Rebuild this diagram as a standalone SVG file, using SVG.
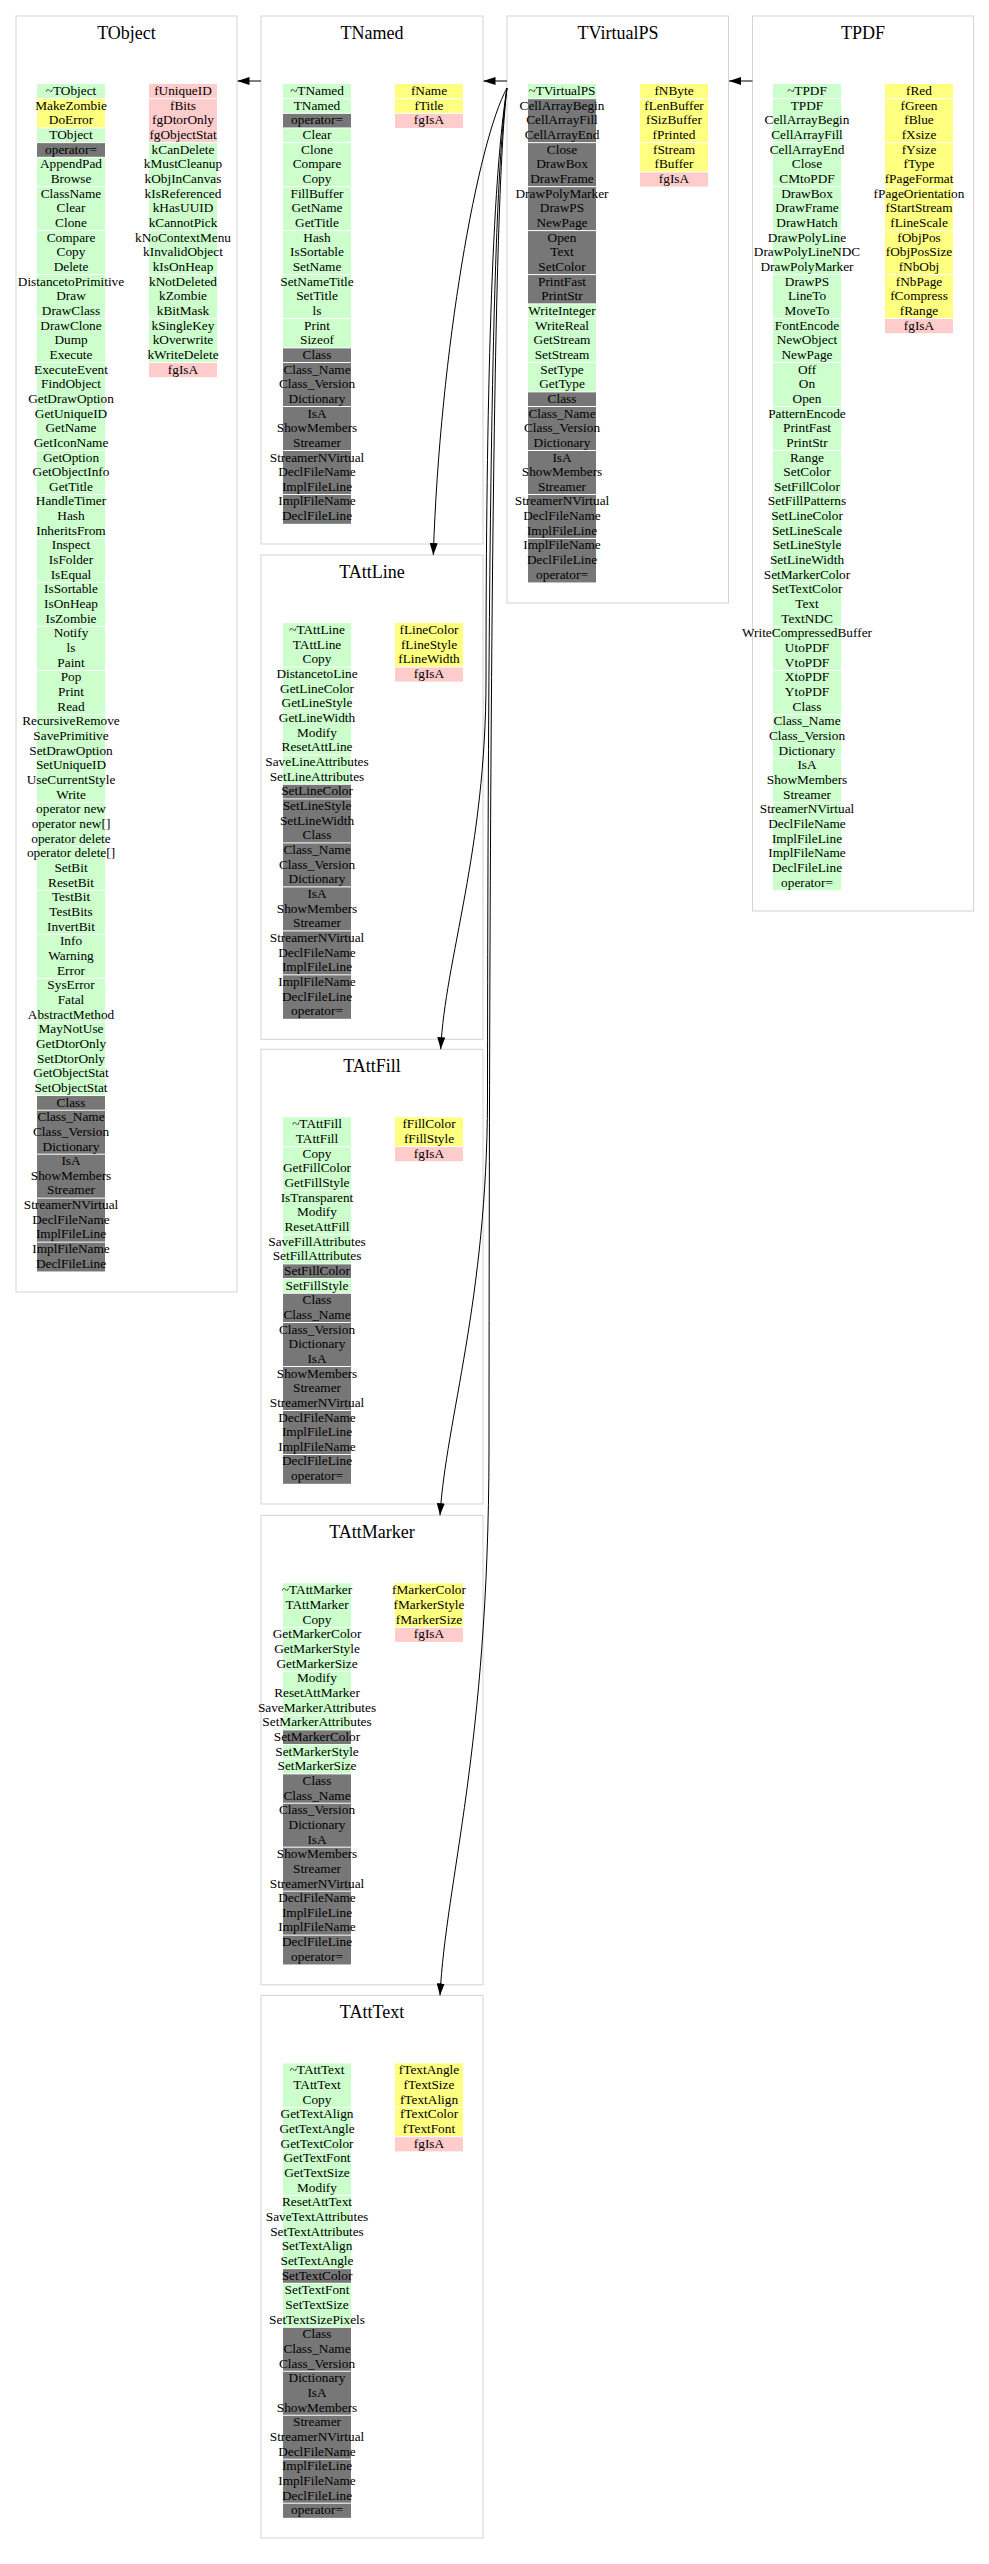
<svg xmlns="http://www.w3.org/2000/svg" width="989" height="2564" viewBox="0 0 989 2564">
<style>
.box{fill:#fff;stroke:#d3d3d3;stroke-width:1}
.t{font-family:"Liberation Serif","Times New Roman",serif;font-size:18px;text-anchor:middle;fill:#000}
.r{font-family:"Liberation Serif","Times New Roman",serif;font-size:13.3px;text-anchor:middle;fill:#000}
.G{fill:#ccffcc}.Y{fill:#ffff80}.P{fill:#ffcccc}.D{fill:#777777}
.sep{stroke:#fff;stroke-width:1;fill:none}
.edge{fill:none;stroke:#000;stroke-width:1}
</style>
<defs>
<marker id="a" viewBox="0 0 12 8" refX="12" refY="4" markerWidth="12" markerHeight="8" markerUnits="userSpaceOnUse" orient="auto"><path d="M0,0L12,4L0,8z" fill="#000"/></marker>
</defs>
<rect width="989" height="2564" fill="#fff"/>

<g id="TObject">
<rect class="box" x="16" y="16" width="221" height="1276"/>
<text class="t" x="126.5" y="38.5">TObject</text>
<g transform="translate(37,84) scale(1,14.66)">
<rect class="G" y="0" width="68" height="1"/><rect class="Y" y="1" width="68" height="2"/><rect class="G" y="3" width="68" height="1"/><rect class="D" y="4" width="68" height="1"/><rect class="G" y="5" width="68" height="64"/><rect class="D" y="69" width="68" height="12"/>
<path class="sep" vector-effect="non-scaling-stroke" d="M0,1h68M0,3h68M0,4h68M0,5h68M0,7h68M0,10h68M0,13h68M0,16h68M0,19h68M0,22h68M0,25h68M0,28h68M0,31h68M0,34h68M0,37h68M0,40h68M0,43h68M0,46h68M0,49h68M0,52h68M0,55h68M0,58h68M0,61h68M0,64h68M0,67h68M0,69h68M0,70h68M0,73h68M0,76h68M0,79h68"/>
</g>
<text class="r" y="95"><tspan x="71">~TObject</tspan><tspan x="71" dy="14.66">MakeZombie</tspan><tspan x="71" dy="14.66">DoError</tspan><tspan x="71" dy="14.66">TObject</tspan><tspan x="71" dy="14.66">operator=</tspan><tspan x="71" dy="14.66">AppendPad</tspan><tspan x="71" dy="14.66">Browse</tspan><tspan x="71" dy="14.66">ClassName</tspan><tspan x="71" dy="14.66">Clear</tspan><tspan x="71" dy="14.66">Clone</tspan><tspan x="71" dy="14.66">Compare</tspan><tspan x="71" dy="14.66">Copy</tspan><tspan x="71" dy="14.66">Delete</tspan><tspan x="71" dy="14.66">DistancetoPrimitive</tspan><tspan x="71" dy="14.66">Draw</tspan><tspan x="71" dy="14.66">DrawClass</tspan><tspan x="71" dy="14.66">DrawClone</tspan><tspan x="71" dy="14.66">Dump</tspan><tspan x="71" dy="14.66">Execute</tspan><tspan x="71" dy="14.66">ExecuteEvent</tspan><tspan x="71" dy="14.66">FindObject</tspan><tspan x="71" dy="14.66">GetDrawOption</tspan><tspan x="71" dy="14.66">GetUniqueID</tspan><tspan x="71" dy="14.66">GetName</tspan><tspan x="71" dy="14.66">GetIconName</tspan><tspan x="71" dy="14.66">GetOption</tspan><tspan x="71" dy="14.66">GetObjectInfo</tspan><tspan x="71" dy="14.66">GetTitle</tspan><tspan x="71" dy="14.66">HandleTimer</tspan><tspan x="71" dy="14.66">Hash</tspan><tspan x="71" dy="14.66">InheritsFrom</tspan><tspan x="71" dy="14.66">Inspect</tspan><tspan x="71" dy="14.66">IsFolder</tspan><tspan x="71" dy="14.66">IsEqual</tspan><tspan x="71" dy="14.66">IsSortable</tspan><tspan x="71" dy="14.66">IsOnHeap</tspan><tspan x="71" dy="14.66">IsZombie</tspan><tspan x="71" dy="14.66">Notify</tspan><tspan x="71" dy="14.66">ls</tspan><tspan x="71" dy="14.66">Paint</tspan><tspan x="71" dy="14.66">Pop</tspan><tspan x="71" dy="14.66">Print</tspan><tspan x="71" dy="14.66">Read</tspan><tspan x="71" dy="14.66">RecursiveRemove</tspan><tspan x="71" dy="14.66">SavePrimitive</tspan><tspan x="71" dy="14.66">SetDrawOption</tspan><tspan x="71" dy="14.66">SetUniqueID</tspan><tspan x="71" dy="14.66">UseCurrentStyle</tspan><tspan x="71" dy="14.66">Write</tspan><tspan x="71" dy="14.66">operator new</tspan><tspan x="71" dy="14.66">operator new[]</tspan><tspan x="71" dy="14.66">operator delete</tspan><tspan x="71" dy="14.66">operator delete[]</tspan><tspan x="71" dy="14.66">SetBit</tspan><tspan x="71" dy="14.66">ResetBit</tspan><tspan x="71" dy="14.66">TestBit</tspan><tspan x="71" dy="14.66">TestBits</tspan><tspan x="71" dy="14.66">InvertBit</tspan><tspan x="71" dy="14.66">Info</tspan><tspan x="71" dy="14.66">Warning</tspan><tspan x="71" dy="14.66">Error</tspan><tspan x="71" dy="14.66">SysError</tspan><tspan x="71" dy="14.66">Fatal</tspan><tspan x="71" dy="14.66">AbstractMethod</tspan><tspan x="71" dy="14.66">MayNotUse</tspan><tspan x="71" dy="14.66">GetDtorOnly</tspan><tspan x="71" dy="14.66">SetDtorOnly</tspan><tspan x="71" dy="14.66">GetObjectStat</tspan><tspan x="71" dy="14.66">SetObjectStat</tspan><tspan x="71" dy="14.66">Class</tspan><tspan x="71" dy="14.66">Class_Name</tspan><tspan x="71" dy="14.66">Class_Version</tspan><tspan x="71" dy="14.66">Dictionary</tspan><tspan x="71" dy="14.66">IsA</tspan><tspan x="71" dy="14.66">ShowMembers</tspan><tspan x="71" dy="14.66">Streamer</tspan><tspan x="71" dy="14.66">StreamerNVirtual</tspan><tspan x="71" dy="14.66">DeclFileName</tspan><tspan x="71" dy="14.66">ImplFileLine</tspan><tspan x="71" dy="14.66">ImplFileName</tspan><tspan x="71" dy="14.66">DeclFileLine</tspan></text>
<g transform="translate(149,84) scale(1,14.66)">
<rect class="P" y="0" width="68" height="4"/><rect class="G" y="4" width="68" height="15"/><rect class="P" y="19" width="68" height="1"/>
<path class="sep" vector-effect="non-scaling-stroke" d="M0,1h68M0,4h68M0,7h68M0,10h68M0,13h68M0,16h68M0,19h68"/>
</g>
<text class="r" y="95"><tspan x="183">fUniqueID</tspan><tspan x="183" dy="14.66">fBits</tspan><tspan x="183" dy="14.66">fgDtorOnly</tspan><tspan x="183" dy="14.66">fgObjectStat</tspan><tspan x="183" dy="14.66">kCanDelete</tspan><tspan x="183" dy="14.66">kMustCleanup</tspan><tspan x="183" dy="14.66">kObjInCanvas</tspan><tspan x="183" dy="14.66">kIsReferenced</tspan><tspan x="183" dy="14.66">kHasUUID</tspan><tspan x="183" dy="14.66">kCannotPick</tspan><tspan x="183" dy="14.66">kNoContextMenu</tspan><tspan x="183" dy="14.66">kInvalidObject</tspan><tspan x="183" dy="14.66">kIsOnHeap</tspan><tspan x="183" dy="14.66">kNotDeleted</tspan><tspan x="183" dy="14.66">kZombie</tspan><tspan x="183" dy="14.66">kBitMask</tspan><tspan x="183" dy="14.66">kSingleKey</tspan><tspan x="183" dy="14.66">kOverwrite</tspan><tspan x="183" dy="14.66">kWriteDelete</tspan><tspan x="183" dy="14.66">fgIsA</tspan></text>
</g>

<g id="TNamed">
<rect class="box" x="261" y="16" width="222" height="528"/>
<text class="t" x="372" y="38.5">TNamed</text>
<g transform="translate(283,84) scale(1,14.66)">
<rect class="G" y="0" width="68" height="2"/><rect class="D" y="2" width="68" height="1"/><rect class="G" y="3" width="68" height="15"/><rect class="D" y="18" width="68" height="12"/>
<path class="sep" vector-effect="non-scaling-stroke" d="M0,1h68M0,2h68M0,3h68M0,4h68M0,7h68M0,10h68M0,13h68M0,16h68M0,18h68M0,19h68M0,22h68M0,25h68M0,28h68"/>
</g>
<text class="r" y="95"><tspan x="317">~TNamed</tspan><tspan x="317" dy="14.66">TNamed</tspan><tspan x="317" dy="14.66">operator=</tspan><tspan x="317" dy="14.66">Clear</tspan><tspan x="317" dy="14.66">Clone</tspan><tspan x="317" dy="14.66">Compare</tspan><tspan x="317" dy="14.66">Copy</tspan><tspan x="317" dy="14.66">FillBuffer</tspan><tspan x="317" dy="14.66">GetName</tspan><tspan x="317" dy="14.66">GetTitle</tspan><tspan x="317" dy="14.66">Hash</tspan><tspan x="317" dy="14.66">IsSortable</tspan><tspan x="317" dy="14.66">SetName</tspan><tspan x="317" dy="14.66">SetNameTitle</tspan><tspan x="317" dy="14.66">SetTitle</tspan><tspan x="317" dy="14.66">ls</tspan><tspan x="317" dy="14.66">Print</tspan><tspan x="317" dy="14.66">Sizeof</tspan><tspan x="317" dy="14.66">Class</tspan><tspan x="317" dy="14.66">Class_Name</tspan><tspan x="317" dy="14.66">Class_Version</tspan><tspan x="317" dy="14.66">Dictionary</tspan><tspan x="317" dy="14.66">IsA</tspan><tspan x="317" dy="14.66">ShowMembers</tspan><tspan x="317" dy="14.66">Streamer</tspan><tspan x="317" dy="14.66">StreamerNVirtual</tspan><tspan x="317" dy="14.66">DeclFileName</tspan><tspan x="317" dy="14.66">ImplFileLine</tspan><tspan x="317" dy="14.66">ImplFileName</tspan><tspan x="317" dy="14.66">DeclFileLine</tspan></text>
<g transform="translate(395,84) scale(1,14.66)">
<rect class="Y" y="0" width="68" height="2"/><rect class="P" y="2" width="68" height="1"/>
<path class="sep" vector-effect="non-scaling-stroke" d="M0,1h68M0,2h68"/>
</g>
<text class="r" y="95"><tspan x="429">fName</tspan><tspan x="429" dy="14.66">fTitle</tspan><tspan x="429" dy="14.66">fgIsA</tspan></text>
</g>

<g id="TVirtualPS">
<rect class="box" x="507" y="16" width="221.5" height="587"/>
<text class="t" x="618" y="38.5">TVirtualPS</text>
<g transform="translate(528,84) scale(1,14.66)">
<rect class="G" y="0" width="68" height="1"/><rect class="D" y="1" width="68" height="14"/><rect class="G" y="15" width="68" height="6"/><rect class="D" y="21" width="68" height="13"/>
<path class="sep" vector-effect="non-scaling-stroke" d="M0,1h68M0,4h68M0,7h68M0,10h68M0,13h68M0,15h68M0,16h68M0,19h68M0,21h68M0,22h68M0,25h68M0,28h68M0,31h68"/>
</g>
<text class="r" y="95"><tspan x="562">~TVirtualPS</tspan><tspan x="562" dy="14.66">CellArrayBegin</tspan><tspan x="562" dy="14.66">CellArrayFill</tspan><tspan x="562" dy="14.66">CellArrayEnd</tspan><tspan x="562" dy="14.66">Close</tspan><tspan x="562" dy="14.66">DrawBox</tspan><tspan x="562" dy="14.66">DrawFrame</tspan><tspan x="562" dy="14.66">DrawPolyMarker</tspan><tspan x="562" dy="14.66">DrawPS</tspan><tspan x="562" dy="14.66">NewPage</tspan><tspan x="562" dy="14.66">Open</tspan><tspan x="562" dy="14.66">Text</tspan><tspan x="562" dy="14.66">SetColor</tspan><tspan x="562" dy="14.66">PrintFast</tspan><tspan x="562" dy="14.66">PrintStr</tspan><tspan x="562" dy="14.66">WriteInteger</tspan><tspan x="562" dy="14.66">WriteReal</tspan><tspan x="562" dy="14.66">GetStream</tspan><tspan x="562" dy="14.66">SetStream</tspan><tspan x="562" dy="14.66">SetType</tspan><tspan x="562" dy="14.66">GetType</tspan><tspan x="562" dy="14.66">Class</tspan><tspan x="562" dy="14.66">Class_Name</tspan><tspan x="562" dy="14.66">Class_Version</tspan><tspan x="562" dy="14.66">Dictionary</tspan><tspan x="562" dy="14.66">IsA</tspan><tspan x="562" dy="14.66">ShowMembers</tspan><tspan x="562" dy="14.66">Streamer</tspan><tspan x="562" dy="14.66">StreamerNVirtual</tspan><tspan x="562" dy="14.66">DeclFileName</tspan><tspan x="562" dy="14.66">ImplFileLine</tspan><tspan x="562" dy="14.66">ImplFileName</tspan><tspan x="562" dy="14.66">DeclFileLine</tspan><tspan x="562" dy="14.66">operator=</tspan></text>
<g transform="translate(640,84) scale(1,14.66)">
<rect class="Y" y="0" width="68" height="6"/><rect class="P" y="6" width="68" height="1"/>
<path class="sep" vector-effect="non-scaling-stroke" d="M0,1h68M0,4h68M0,6h68"/>
</g>
<text class="r" y="95"><tspan x="674">fNByte</tspan><tspan x="674" dy="14.66">fLenBuffer</tspan><tspan x="674" dy="14.66">fSizBuffer</tspan><tspan x="674" dy="14.66">fPrinted</tspan><tspan x="674" dy="14.66">fStream</tspan><tspan x="674" dy="14.66">fBuffer</tspan><tspan x="674" dy="14.66">fgIsA</tspan></text>
</g>

<g id="TPDF">
<rect class="box" x="752.5" y="16" width="221" height="895"/>
<text class="t" x="863" y="38.5">TPDF</text>
<g transform="translate(773,84) scale(1,14.66)">
<rect class="G" y="0" width="68" height="55"/>
<path class="sep" vector-effect="non-scaling-stroke" d="M0,1h68M0,4h68M0,7h68M0,10h68M0,13h68M0,16h68M0,19h68M0,22h68M0,25h68M0,28h68M0,31h68M0,34h68M0,37h68M0,40h68M0,43h68M0,46h68M0,49h68M0,52h68"/>
</g>
<text class="r" y="95"><tspan x="807">~TPDF</tspan><tspan x="807" dy="14.66">TPDF</tspan><tspan x="807" dy="14.66">CellArrayBegin</tspan><tspan x="807" dy="14.66">CellArrayFill</tspan><tspan x="807" dy="14.66">CellArrayEnd</tspan><tspan x="807" dy="14.66">Close</tspan><tspan x="807" dy="14.66">CMtoPDF</tspan><tspan x="807" dy="14.66">DrawBox</tspan><tspan x="807" dy="14.66">DrawFrame</tspan><tspan x="807" dy="14.66">DrawHatch</tspan><tspan x="807" dy="14.66">DrawPolyLine</tspan><tspan x="807" dy="14.66">DrawPolyLineNDC</tspan><tspan x="807" dy="14.66">DrawPolyMarker</tspan><tspan x="807" dy="14.66">DrawPS</tspan><tspan x="807" dy="14.66">LineTo</tspan><tspan x="807" dy="14.66">MoveTo</tspan><tspan x="807" dy="14.66">FontEncode</tspan><tspan x="807" dy="14.66">NewObject</tspan><tspan x="807" dy="14.66">NewPage</tspan><tspan x="807" dy="14.66">Off</tspan><tspan x="807" dy="14.66">On</tspan><tspan x="807" dy="14.66">Open</tspan><tspan x="807" dy="14.66">PatternEncode</tspan><tspan x="807" dy="14.66">PrintFast</tspan><tspan x="807" dy="14.66">PrintStr</tspan><tspan x="807" dy="14.66">Range</tspan><tspan x="807" dy="14.66">SetColor</tspan><tspan x="807" dy="14.66">SetFillColor</tspan><tspan x="807" dy="14.66">SetFillPatterns</tspan><tspan x="807" dy="14.66">SetLineColor</tspan><tspan x="807" dy="14.66">SetLineScale</tspan><tspan x="807" dy="14.66">SetLineStyle</tspan><tspan x="807" dy="14.66">SetLineWidth</tspan><tspan x="807" dy="14.66">SetMarkerColor</tspan><tspan x="807" dy="14.66">SetTextColor</tspan><tspan x="807" dy="14.66">Text</tspan><tspan x="807" dy="14.66">TextNDC</tspan><tspan x="807" dy="14.66">WriteCompressedBuffer</tspan><tspan x="807" dy="14.66">UtoPDF</tspan><tspan x="807" dy="14.66">VtoPDF</tspan><tspan x="807" dy="14.66">XtoPDF</tspan><tspan x="807" dy="14.66">YtoPDF</tspan><tspan x="807" dy="14.66">Class</tspan><tspan x="807" dy="14.66">Class_Name</tspan><tspan x="807" dy="14.66">Class_Version</tspan><tspan x="807" dy="14.66">Dictionary</tspan><tspan x="807" dy="14.66">IsA</tspan><tspan x="807" dy="14.66">ShowMembers</tspan><tspan x="807" dy="14.66">Streamer</tspan><tspan x="807" dy="14.66">StreamerNVirtual</tspan><tspan x="807" dy="14.66">DeclFileName</tspan><tspan x="807" dy="14.66">ImplFileLine</tspan><tspan x="807" dy="14.66">ImplFileName</tspan><tspan x="807" dy="14.66">DeclFileLine</tspan><tspan x="807" dy="14.66">operator=</tspan></text>
<g transform="translate(885,84) scale(1,14.66)">
<rect class="Y" y="0" width="68" height="16"/><rect class="P" y="16" width="68" height="1"/>
<path class="sep" vector-effect="non-scaling-stroke" d="M0,1h68M0,4h68M0,7h68M0,10h68M0,13h68M0,16h68"/>
</g>
<text class="r" y="95"><tspan x="919">fRed</tspan><tspan x="919" dy="14.66">fGreen</tspan><tspan x="919" dy="14.66">fBlue</tspan><tspan x="919" dy="14.66">fXsize</tspan><tspan x="919" dy="14.66">fYsize</tspan><tspan x="919" dy="14.66">fType</tspan><tspan x="919" dy="14.66">fPageFormat</tspan><tspan x="919" dy="14.66">fPageOrientation</tspan><tspan x="919" dy="14.66">fStartStream</tspan><tspan x="919" dy="14.66">fLineScale</tspan><tspan x="919" dy="14.66">fObjPos</tspan><tspan x="919" dy="14.66">fObjPosSize</tspan><tspan x="919" dy="14.66">fNbObj</tspan><tspan x="919" dy="14.66">fNbPage</tspan><tspan x="919" dy="14.66">fCompress</tspan><tspan x="919" dy="14.66">fRange</tspan><tspan x="919" dy="14.66">fgIsA</tspan></text>
</g>

<g id="TAttLine">
<rect class="box" x="261" y="555" width="222" height="484.3"/>
<text class="t" x="372" y="577.5">TAttLine</text>
<g transform="translate(283,623) scale(1,14.66)">
<rect class="G" y="0" width="68" height="11"/><rect class="D" y="11" width="68" height="16"/>
<path class="sep" vector-effect="non-scaling-stroke" d="M0,3h68M0,6h68M0,9h68M0,11h68M0,12h68M0,15h68M0,18h68M0,21h68M0,24h68"/>
</g>
<text class="r" y="634"><tspan x="317">~TAttLine</tspan><tspan x="317" dy="14.66">TAttLine</tspan><tspan x="317" dy="14.66">Copy</tspan><tspan x="317" dy="14.66">DistancetoLine</tspan><tspan x="317" dy="14.66">GetLineColor</tspan><tspan x="317" dy="14.66">GetLineStyle</tspan><tspan x="317" dy="14.66">GetLineWidth</tspan><tspan x="317" dy="14.66">Modify</tspan><tspan x="317" dy="14.66">ResetAttLine</tspan><tspan x="317" dy="14.66">SaveLineAttributes</tspan><tspan x="317" dy="14.66">SetLineAttributes</tspan><tspan x="317" dy="14.66">SetLineColor</tspan><tspan x="317" dy="14.66">SetLineStyle</tspan><tspan x="317" dy="14.66">SetLineWidth</tspan><tspan x="317" dy="14.66">Class</tspan><tspan x="317" dy="14.66">Class_Name</tspan><tspan x="317" dy="14.66">Class_Version</tspan><tspan x="317" dy="14.66">Dictionary</tspan><tspan x="317" dy="14.66">IsA</tspan><tspan x="317" dy="14.66">ShowMembers</tspan><tspan x="317" dy="14.66">Streamer</tspan><tspan x="317" dy="14.66">StreamerNVirtual</tspan><tspan x="317" dy="14.66">DeclFileName</tspan><tspan x="317" dy="14.66">ImplFileLine</tspan><tspan x="317" dy="14.66">ImplFileName</tspan><tspan x="317" dy="14.66">DeclFileLine</tspan><tspan x="317" dy="14.66">operator=</tspan></text>
<g transform="translate(395,623) scale(1,14.66)">
<rect class="Y" y="0" width="68" height="3"/><rect class="P" y="3" width="68" height="1"/>
<path class="sep" vector-effect="non-scaling-stroke" d="M0,3h68"/>
</g>
<text class="r" y="634"><tspan x="429">fLineColor</tspan><tspan x="429" dy="14.66">fLineStyle</tspan><tspan x="429" dy="14.66">fLineWidth</tspan><tspan x="429" dy="14.66">fgIsA</tspan></text>
</g>

<g id="TAttFill">
<rect class="box" x="261" y="1049.3" width="222" height="454.7"/>
<text class="t" x="372" y="1071.8">TAttFill</text>
<g transform="translate(283,1117.3) scale(1,14.66)">
<rect class="G" y="0" width="68" height="10"/><rect class="D" y="10" width="68" height="1"/><rect class="G" y="11" width="68" height="1"/><rect class="D" y="12" width="68" height="13"/>
<path class="sep" vector-effect="non-scaling-stroke" d="M0,2h68M0,5h68M0,8h68M0,10h68M0,11h68M0,12h68M0,14h68M0,17h68M0,20h68M0,23h68"/>
</g>
<text class="r" y="1128.3"><tspan x="317">~TAttFill</tspan><tspan x="317" dy="14.66">TAttFill</tspan><tspan x="317" dy="14.66">Copy</tspan><tspan x="317" dy="14.66">GetFillColor</tspan><tspan x="317" dy="14.66">GetFillStyle</tspan><tspan x="317" dy="14.66">IsTransparent</tspan><tspan x="317" dy="14.66">Modify</tspan><tspan x="317" dy="14.66">ResetAttFill</tspan><tspan x="317" dy="14.66">SaveFillAttributes</tspan><tspan x="317" dy="14.66">SetFillAttributes</tspan><tspan x="317" dy="14.66">SetFillColor</tspan><tspan x="317" dy="14.66">SetFillStyle</tspan><tspan x="317" dy="14.66">Class</tspan><tspan x="317" dy="14.66">Class_Name</tspan><tspan x="317" dy="14.66">Class_Version</tspan><tspan x="317" dy="14.66">Dictionary</tspan><tspan x="317" dy="14.66">IsA</tspan><tspan x="317" dy="14.66">ShowMembers</tspan><tspan x="317" dy="14.66">Streamer</tspan><tspan x="317" dy="14.66">StreamerNVirtual</tspan><tspan x="317" dy="14.66">DeclFileName</tspan><tspan x="317" dy="14.66">ImplFileLine</tspan><tspan x="317" dy="14.66">ImplFileName</tspan><tspan x="317" dy="14.66">DeclFileLine</tspan><tspan x="317" dy="14.66">operator=</tspan></text>
<g transform="translate(395,1117.3) scale(1,14.66)">
<rect class="Y" y="0" width="68" height="2"/><rect class="P" y="2" width="68" height="1"/>
<path class="sep" vector-effect="non-scaling-stroke" d="M0,2h68"/>
</g>
<text class="r" y="1128.3"><tspan x="429">fFillColor</tspan><tspan x="429" dy="14.66">fFillStyle</tspan><tspan x="429" dy="14.66">fgIsA</tspan></text>
</g>

<g id="TAttMarker">
<rect class="box" x="261" y="1515.3" width="222" height="469.5"/>
<text class="t" x="372" y="1537.8">TAttMarker</text>
<g transform="translate(283,1583.3) scale(1,14.66)">
<rect class="G" y="0" width="68" height="10"/><rect class="D" y="10" width="68" height="1"/><rect class="G" y="11" width="68" height="2"/><rect class="D" y="13" width="68" height="13"/>
<path class="sep" vector-effect="non-scaling-stroke" d="M0,3h68M0,6h68M0,9h68M0,10h68M0,11h68M0,12h68M0,13h68M0,15h68M0,18h68M0,21h68M0,24h68"/>
</g>
<text class="r" y="1594.3"><tspan x="317">~TAttMarker</tspan><tspan x="317" dy="14.66">TAttMarker</tspan><tspan x="317" dy="14.66">Copy</tspan><tspan x="317" dy="14.66">GetMarkerColor</tspan><tspan x="317" dy="14.66">GetMarkerStyle</tspan><tspan x="317" dy="14.66">GetMarkerSize</tspan><tspan x="317" dy="14.66">Modify</tspan><tspan x="317" dy="14.66">ResetAttMarker</tspan><tspan x="317" dy="14.66">SaveMarkerAttributes</tspan><tspan x="317" dy="14.66">SetMarkerAttributes</tspan><tspan x="317" dy="14.66">SetMarkerColor</tspan><tspan x="317" dy="14.66">SetMarkerStyle</tspan><tspan x="317" dy="14.66">SetMarkerSize</tspan><tspan x="317" dy="14.66">Class</tspan><tspan x="317" dy="14.66">Class_Name</tspan><tspan x="317" dy="14.66">Class_Version</tspan><tspan x="317" dy="14.66">Dictionary</tspan><tspan x="317" dy="14.66">IsA</tspan><tspan x="317" dy="14.66">ShowMembers</tspan><tspan x="317" dy="14.66">Streamer</tspan><tspan x="317" dy="14.66">StreamerNVirtual</tspan><tspan x="317" dy="14.66">DeclFileName</tspan><tspan x="317" dy="14.66">ImplFileLine</tspan><tspan x="317" dy="14.66">ImplFileName</tspan><tspan x="317" dy="14.66">DeclFileLine</tspan><tspan x="317" dy="14.66">operator=</tspan></text>
<g transform="translate(395,1583.3) scale(1,14.66)">
<rect class="Y" y="0" width="68" height="3"/><rect class="P" y="3" width="68" height="1"/>
<path class="sep" vector-effect="non-scaling-stroke" d="M0,3h68"/>
</g>
<text class="r" y="1594.3"><tspan x="429">fMarkerColor</tspan><tspan x="429" dy="14.66">fMarkerStyle</tspan><tspan x="429" dy="14.66">fMarkerSize</tspan><tspan x="429" dy="14.66">fgIsA</tspan></text>
</g>

<g id="TAttText">
<rect class="box" x="261" y="1995.4" width="222" height="542.6"/>
<text class="t" x="372" y="2017.9">TAttText</text>
<g transform="translate(283,2063.4) scale(1,14.66)">
<rect class="G" y="0" width="68" height="14"/><rect class="D" y="14" width="68" height="1"/><rect class="G" y="15" width="68" height="3"/><rect class="D" y="18" width="68" height="13"/>
<path class="sep" vector-effect="non-scaling-stroke" d="M0,3h68M0,6h68M0,9h68M0,12h68M0,14h68M0,15h68M0,18h68M0,21h68M0,24h68M0,27h68M0,30h68"/>
</g>
<text class="r" y="2074.4"><tspan x="317">~TAttText</tspan><tspan x="317" dy="14.66">TAttText</tspan><tspan x="317" dy="14.66">Copy</tspan><tspan x="317" dy="14.66">GetTextAlign</tspan><tspan x="317" dy="14.66">GetTextAngle</tspan><tspan x="317" dy="14.66">GetTextColor</tspan><tspan x="317" dy="14.66">GetTextFont</tspan><tspan x="317" dy="14.66">GetTextSize</tspan><tspan x="317" dy="14.66">Modify</tspan><tspan x="317" dy="14.66">ResetAttText</tspan><tspan x="317" dy="14.66">SaveTextAttributes</tspan><tspan x="317" dy="14.66">SetTextAttributes</tspan><tspan x="317" dy="14.66">SetTextAlign</tspan><tspan x="317" dy="14.66">SetTextAngle</tspan><tspan x="317" dy="14.66">SetTextColor</tspan><tspan x="317" dy="14.66">SetTextFont</tspan><tspan x="317" dy="14.66">SetTextSize</tspan><tspan x="317" dy="14.66">SetTextSizePixels</tspan><tspan x="317" dy="14.66">Class</tspan><tspan x="317" dy="14.66">Class_Name</tspan><tspan x="317" dy="14.66">Class_Version</tspan><tspan x="317" dy="14.66">Dictionary</tspan><tspan x="317" dy="14.66">IsA</tspan><tspan x="317" dy="14.66">ShowMembers</tspan><tspan x="317" dy="14.66">Streamer</tspan><tspan x="317" dy="14.66">StreamerNVirtual</tspan><tspan x="317" dy="14.66">DeclFileName</tspan><tspan x="317" dy="14.66">ImplFileLine</tspan><tspan x="317" dy="14.66">ImplFileName</tspan><tspan x="317" dy="14.66">DeclFileLine</tspan><tspan x="317" dy="14.66">operator=</tspan></text>
<g transform="translate(395,2063.4) scale(1,14.66)">
<rect class="Y" y="0" width="68" height="5"/><rect class="P" y="5" width="68" height="1"/>
<path class="sep" vector-effect="non-scaling-stroke" d="M0,3h68M0,5h68"/>
</g>
<text class="r" y="2074.4"><tspan x="429">fTextAngle</tspan><tspan x="429" dy="14.66">fTextSize</tspan><tspan x="429" dy="14.66">fTextAlign</tspan><tspan x="429" dy="14.66">fTextColor</tspan><tspan x="429" dy="14.66">fTextFont</tspan><tspan x="429" dy="14.66">fgIsA</tspan></text>
</g>

<g id="connectors">
<path class="edge" marker-end="url(#a)" d="M261,81L237.5,81"/>
<path class="edge" marker-end="url(#a)" d="M507,81L483.5,81"/>
<path class="edge" marker-end="url(#a)" d="M752.5,81L729,81"/>
<path class="edge" marker-end="url(#a)" d="M507,88C478,140 440,350 433.3,555"/>
<path class="edge" marker-end="url(#a)" d="M507,88C492,180 486,400 486,680C486,850 445,960 440.7,1049.3"/>
<path class="edge" marker-end="url(#a)" d="M507,88C494,180 488,450 487.5,1100C487,1300 446,1420 440,1515.3"/>
<path class="edge" marker-end="url(#a)" d="M507,88C496,180 489.5,500 489,1450C488.5,1750 446,1880 440,1995.4"/>
</g>
</svg>
